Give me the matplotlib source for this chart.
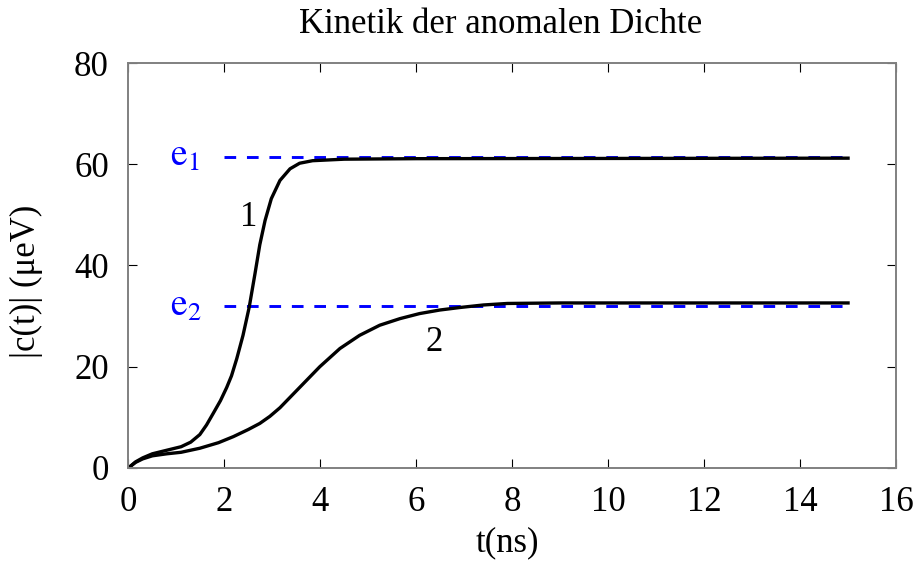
import matplotlib.pyplot as plt

plt.rcParams['font.family'] = ['Liberation Serif', 'DejaVu Serif']
plt.rcParams['mathtext.fontset'] = 'stix'

# curve 1 (fast rise)
t1 = [0, 0.15, 0.3, 0.5, 0.8, 1.1, 1.3, 1.49, 1.63, 1.77, 1.92, 2.05, 2.15, 2.26, 2.39,
      2.52, 2.64, 2.74, 2.85, 2.98, 3.16, 3.37, 3.57, 3.84, 4.5, 6, 15]
c1 = [0, 1.2, 2.0, 2.8, 3.5, 4.2, 5.1, 6.6, 8.5, 10.8, 13.3, 15.9, 18.2, 21.6, 26.2,
      31.8, 38.4, 44.1, 48.9, 53.2, 56.8, 59.1, 60.2, 60.7, 61.0, 61.1, 61.2]

# curve 2 (slow rise)
t2 = [0, 0.15, 0.3, 0.5, 0.8, 1.1, 1.49, 1.88, 2.19, 2.5, 2.74, 2.95, 3.16, 3.58, 3.99,
      4.41, 4.82, 5.24, 5.66, 6.07, 6.49, 6.91, 7.4, 7.9, 9, 15]
c2 = [0, 1.1, 1.8, 2.4, 2.8, 3.1, 3.9, 5.0, 6.2, 7.6, 8.8, 10.2, 11.9, 16.0, 20.0,
      23.6, 26.2, 28.2, 29.5, 30.5, 31.2, 31.7, 32.2, 32.5, 32.6, 32.6]

# reference levels e1, e2
e_levels = [61.5, 31.9]
e_names = ['$\\mathrm{e}_1$', '$\\mathrm{e}_2$']
e_start, e_end = 2, 15

fig = plt.figure(figsize=(9.16, 5.62), dpi=100)
ax = fig.add_axes([0.1401, 0.1673, 0.8381, 0.7206])

for lev, name in zip(e_levels, e_names):
    ax.plot([e_start, e_end], [lev, lev], color='blue', lw=2.1, dashes=(4.0, 3.7))
    ax.text(0.87, lev - 1.8, name, color='blue', fontsize=27, ha='left', va='baseline')

ax.plot(t1, c1, color='black', lw=2.4, solid_joinstyle='round')
ax.plot(t2, c2, color='black', lw=2.4, solid_joinstyle='round')

ax.text(2.515, 49.5, '1', fontsize=25, ha='center', va='center')
ax.text(6.37, 24.85, '2', fontsize=25, ha='center', va='center')

ax.set_xlim(0, 16)
ax.set_ylim(0, 80)
ax.set_xticks(range(0, 17, 2))
ax.set_yticks(range(0, 81, 20))
ax.tick_params(direction='in', length=6.7, width=0.8, top=True, right=True,
               labelsize=25)
ax.tick_params(axis='x', pad=13)
ax.tick_params(axis='y', pad=14)
for s in ax.spines.values():
    s.set_color('#808080')
    s.set_linewidth(1.4)

ax.set_xlabel('t(ns)', fontsize=25)
ax.xaxis.set_label_coords(0.494, -0.205)
ax.xaxis.label.set_verticalalignment('baseline')
ax.set_ylabel('|c(t)| (μeV)', fontsize=25)
ax.yaxis.set_label_coords(-0.111, 0.46)

ax.text(0.4855, 1.074, 'Kinetik der anomalen Dichte', fontsize=25,
        ha='center', va='baseline', transform=ax.transAxes)

fig.savefig('out.png', dpi=100)
